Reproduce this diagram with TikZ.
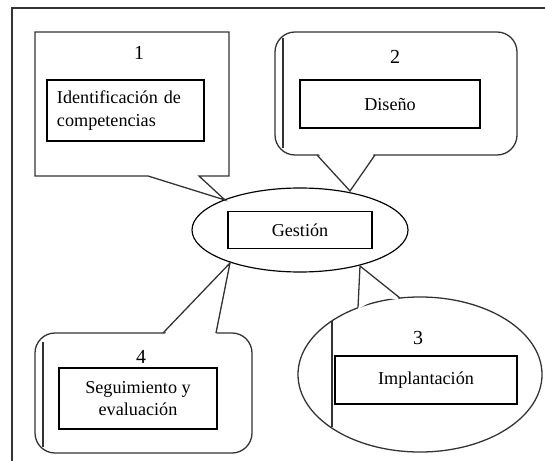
\documentclass[tikz,border=0pt]{standalone}
\usepackage{fontspec}
\setmainfont{Liberation Serif}
\usepackage{tikz}
\usetikzlibrary{shapes,backgrounds,positioning}
\tikzstyle{inbox}=[rectangle, draw, line width=1.3pt, font=\fontsize{15.5}{19.5}\selectfont, align=center, inner sep=0pt]
\tikzstyle{num}=[font=\fontsize{17}{20}\selectfont, inner sep=0pt]
\tikzstyle{callout}=[draw=black!80, line width=1.1pt]
\tikzstyle{hub}=[ellipse, draw, line width=1pt, minimum width=6.48cm, minimum height=2.52cm, inner sep=0pt]
\tikzstyle{cover}=[fill=white, draw=none]

\begin{document}
\begin{tikzpicture}[x=0.03cm, y=-0.03cm]
\useasboundingbox (0,0) rectangle (545,461);
%Frame
\draw[line width=1.1pt, black!80] (12,461) -- (12,8) -- (545,8);

%Centre
\node[hub] (gestion) at (300,230){};
\coordinate (t1) at (225,200);
\coordinate (t2) at (350,191);
\coordinate (t3) at (360,266);
\coordinate (t4) at (230,263);

%Callout 1
\draw[callout] (35,32) -- (229,32) -- (229,176) -- (199,176) -- (t1) -- (148,176) -- (35,176) -- cycle;
%Callout 2
\draw[callout, rounded corners=0.6cm] (275,32) rectangle (517,155);
\fill[cover] (317,152) -- (t2) -- (375,152) -- cycle;
\draw[callout] (317,155) -- (t2) -- (375,155);
\draw[callout] (283,38) -- (283,148);
%Callout 3
\draw[callout] (420,374.5) ellipse [x radius=3.66cm, y radius=2.325cm];
\fill[cover] (358,309) -- (t3) -- (400,300) -- (380,297) -- cycle;
\draw[callout] (358,307.5) -- (t3) -- (400,298);
\draw[callout] (332,321) -- (332,427);
%Callout 4
\draw[callout, rounded corners=0.6cm] (35,333) rectangle (252,453);
\fill[cover] (163,336) -- (t4) -- (216,336) -- cycle;
\draw[callout] (163,333) -- (t4) -- (216,333);
\draw[callout] (43,342) -- (43,447);

%Numbers
\node[num] (n1) at (139,53){1};
\node[num] (n2) at (395,57){2};
\node[num] (n3) at (418,338){3};
\node[num] (n4) at (141,357){4};

%Boxes
\node[inbox, minimum width=4.71cm, minimum height=1.83cm, text width=4.11cm, inner xsep=0.3cm, align=left] (b1) at (125.5,110.5){Identificación de\\competencias};
\node[inbox, minimum width=5.4cm, minimum height=1.44cm] (b2) at (390,104){Diseño};
\node[inbox, minimum width=4.32cm, minimum height=1.11cm] (b0) at (gestion){Gestión};
\node[inbox, minimum width=5.46cm, minimum height=1.44cm] (b3) at (426,380){Implantación};
\node[inbox, minimum width=4.74cm, minimum height=1.83cm] (b4) at (138,398.5){Seguimiento y\\evaluación};
\end{tikzpicture}
\end{document}
